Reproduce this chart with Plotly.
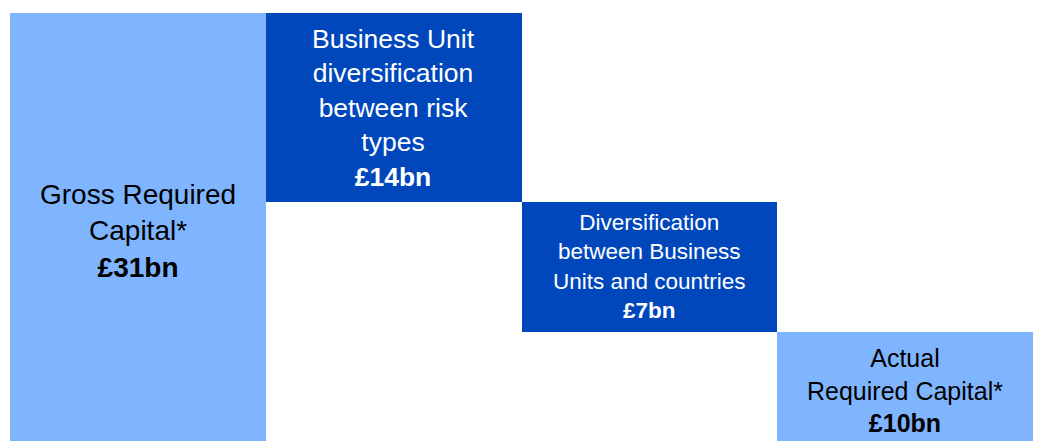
import plotly.graph_objects as go

# Categories of the capital bridge
categories = [
    "Gross Required Capital",
    "Business Unit diversification",
    "Diversification between Business Units",
    "Actual Required Capital",
]
# Stated amounts (£bn)
amounts_bn = [31, 14, 7, 10]
# Bar extents as drawn in the picture (chart units, top of first bar = 31)
bar_top = [31, 31, 17.3, 7.9]
bar_bottom = [-0.6, 17.3, 7.9, -0.6]
# Label text lines
label_lines = [
    ["Gross Required", "Capital*"],
    ["Business Unit", "diversification", "between risk", "types"],
    ["Diversification", "between Business", "Units and countries"],
    ["Actual", "Required Capital*"],
]
label_sizes = [28, 26.5, 22.5, 25]

light = "#7FB5FF"
dark = "#0047BB"
bar_colors = [light, dark, dark, light]
text_colors = ["#000000", "#FFFFFF", "#FFFFFF", "#000000"]

heights = [t - b for t, b in zip(bar_top, bar_bottom)]

fig = go.Figure()
fig.add_trace(go.Bar(
    x=categories,
    y=heights,
    base=bar_bottom,
    marker=dict(color=bar_colors, line=dict(width=0)),
    width=1.0,
    hoverinfo="skip",
))

for cat, lines, amt, t, b, sz, col in zip(categories, label_lines, amounts_bn,
                                          bar_top, bar_bottom, label_sizes, text_colors):
    txt = "<br>".join(lines) + f"<br><b>£{amt}bn</b>"
    fig.add_annotation(
        x=cat, y=(t + b) / 2, text=txt, showarrow=False,
        xanchor="center", yanchor="middle", align="center",
        font=dict(family="Liberation Sans, Arial, sans-serif", size=sz, color=col),
    )

fig.update_layout(
    width=1059, height=441,
    margin=dict(l=2, r=34, t=0, b=0),
    paper_bgcolor="white", plot_bgcolor="white",
    showlegend=False, bargap=0,
    xaxis=dict(visible=False, range=[-0.5, 3.5]),
    yaxis=dict(visible=False, range=[-0.6, 31.38]),
)

fig.write_html("out.html")
